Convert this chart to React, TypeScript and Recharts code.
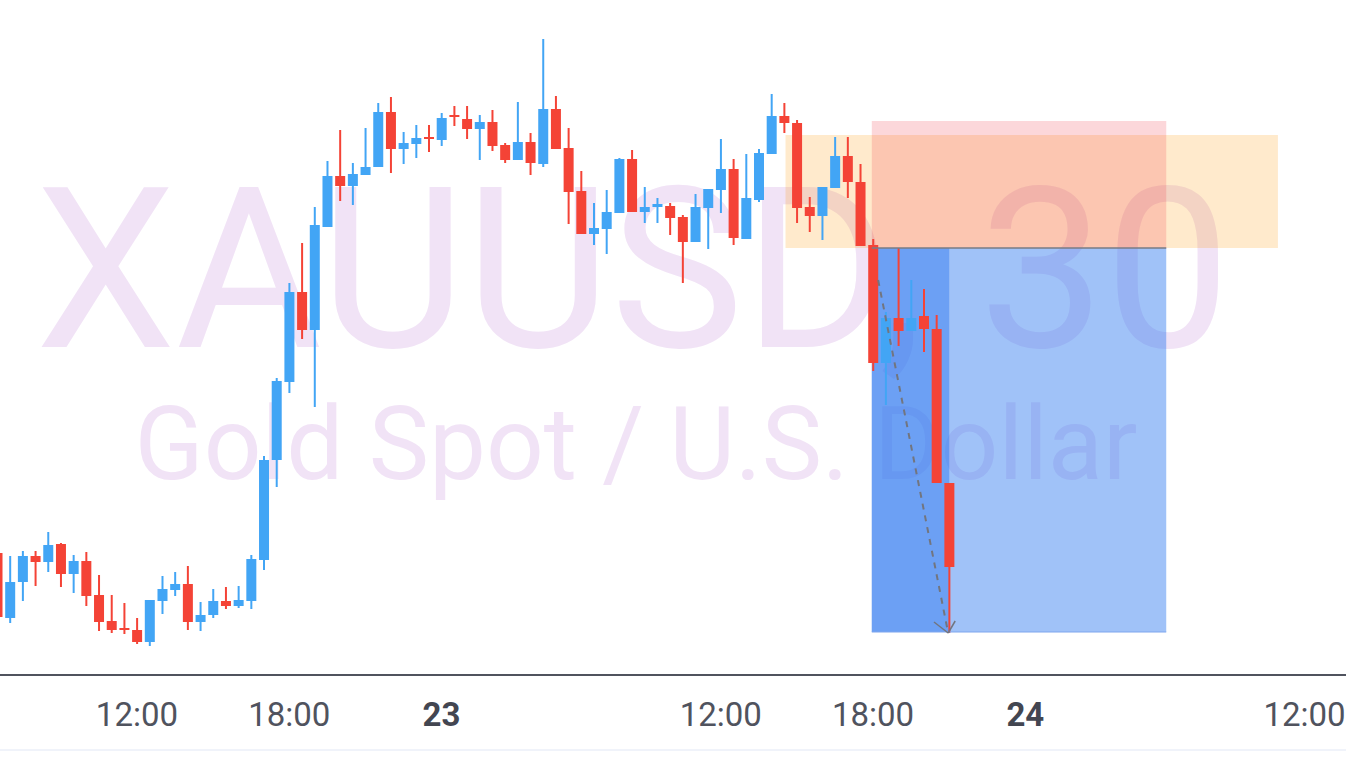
import React from 'react';
import { ComposedChart, Bar, XAxis, YAxis, ReferenceArea, ReferenceLine } from 'recharts';

// 30-minute XAUUSD candles, index 0 is the partial one at the left edge
const opens = [
  2384.7, 2378.2, 2381.8, 2384.4, 2383.8, 2385.6, 2382.6, 2383.9, 2380.5, 2377.9,
  2377.2, 2377.0, 2375.8, 2379.9, 2381.0, 2381.6, 2377.8, 2378.5, 2379.9, 2379.4,
  2379.9, 2384.0, 2394.0, 2401.8, 2410.8, 2407.0, 2417.3, 2422.4, 2421.4, 2422.5,
  2423.3, 2428.8, 2425.1, 2425.6, 2426.3, 2426.0, 2428.5, 2428.1, 2427.1, 2427.8,
  2425.5, 2424.0, 2425.8, 2423.6, 2429.1, 2425.2, 2420.9, 2416.6, 2417.1, 2418.7,
  2424.1, 2418.8, 2419.3, 2419.4, 2418.3, 2415.8, 2419.2, 2421.0, 2423.1, 2416.1,
  2420.0, 2424.6, 2428.4, 2427.7, 2419.3, 2418.4, 2421.2, 2424.4, 2421.8, 2415.5,
  2403.7, 2408.2, 2406.9, 2408.4, 2407.1, 2391.7,
];
const highs = [
  2385.0, 2384.4, 2384.9, 2384.9, 2386.8, 2385.7, 2384.5, 2384.8, 2382.5, 2380.5,
  2379.7, 2378.2, 2380.0, 2382.4, 2382.8, 2383.4, 2379.8, 2381.1, 2381.3, 2381.4,
  2384.5, 2394.4, 2402.2, 2411.7, 2415.7, 2419.3, 2423.9, 2427.0, 2423.7, 2427.2,
  2429.7, 2430.3, 2426.8, 2427.5, 2427.5, 2428.7, 2429.4, 2429.4, 2428.5, 2429.0,
  2425.7, 2429.8, 2426.7, 2436.1, 2430.4, 2427.2, 2422.9, 2419.7, 2421.0, 2424.2,
  2425.0, 2421.3, 2420.2, 2419.7, 2418.5, 2420.6, 2421.1, 2426.1, 2424.1, 2424.6,
  2425.1, 2430.6, 2429.7, 2428.0, 2420.3, 2421.3, 2426.3, 2426.3, 2423.6, 2416.1,
  2408.8, 2415.2, 2412.0, 2411.1, 2408.5, 2391.7,
];
const lows = [
  2378.0, 2377.7, 2379.9, 2381.4, 2382.8, 2381.3, 2380.7, 2379.4, 2376.9, 2376.7,
  2376.6, 2375.6, 2375.4, 2378.6, 2380.4, 2377.0, 2376.9, 2378.2, 2379.1, 2379.2,
  2379.1, 2383.0, 2391.3, 2400.7, 2406.1, 2399.3, 2417.3, 2419.9, 2419.5, 2422.5,
  2423.3, 2422.7, 2423.6, 2424.2, 2424.8, 2425.4, 2427.4, 2426.1, 2424.0, 2424.9,
  2423.7, 2424.0, 2422.5, 2423.3, 2425.1, 2417.6, 2416.6, 2415.5, 2414.6, 2418.7,
  2418.8, 2417.7, 2417.7, 2416.5, 2411.7, 2415.8, 2415.1, 2418.7, 2415.5, 2416.1,
  2419.8, 2424.6, 2426.7, 2417.7, 2416.8, 2416.0, 2421.2, 2420.2, 2415.4, 2402.9,
  2399.5, 2405.4, 2406.9, 2404.8, 2391.7, 2376.7,
];
const closes = [
  2378.3, 2381.8, 2384.4, 2383.8, 2385.5, 2382.6, 2383.9, 2380.4, 2377.8, 2377.0,
  2377.0, 2375.8, 2380.0, 2381.1, 2381.6, 2377.8, 2378.5, 2379.9, 2379.4, 2380.0,
  2384.1, 2394.0, 2401.9, 2410.8, 2407.0, 2417.5, 2422.4, 2421.4, 2422.6, 2423.3,
  2428.8, 2425.1, 2425.7, 2426.2, 2426.1, 2428.2, 2428.3, 2427.1, 2427.8, 2425.4,
  2424.0, 2425.8, 2423.7, 2429.1, 2425.1, 2420.8, 2416.6, 2417.2, 2418.8, 2424.1,
  2418.8, 2419.3, 2419.6, 2418.2, 2415.8, 2419.3, 2421.1, 2423.1, 2416.2, 2420.2,
  2424.7, 2428.4, 2427.7, 2419.2, 2418.4, 2421.3, 2424.4, 2421.8, 2415.4, 2403.7,
  2408.2, 2406.9, 2408.2, 2407.1, 2391.7, 2383.3,
];

// slots on the time scale, the ones after the last candle stay empty
const slotCount = 107;
const tickIndexes = [11, 23, 35, 57, 69, 81, 103];
const tickLabels = ['12:00', '18:00', '23', '12:00', '18:00', '24', '12:00'];
const dayLabels = ['23', '24'];

const priceDomain = [2372.5, 2440];

// short position tool
const positionStart = 68.9;
const positionEnd = 92.1;
const filledEnd = 75.0;
const entryPrice = 2415.2;
const stopPrice = 2427.9;
const targetPrice = 2376.8;

// supply zone drawn by hand
const zoneStart = 62.1;
const zoneEnd = 100.9;
const zoneTop = 2426.5;
const zoneBottom = 2415.2;

// dashed projection arrow
const arrowFrom = { x: 69.4, y: 2412.0 };
const arrowTo = { x: 74.92, y: 2376.7 };
const arrowWingLeft = { x: 73.8, y: 2377.8 };
const arrowWingRight = { x: 75.47, y: 2377.9 };

const UP = '#42A5F5';
const DOWN = '#F44336';

const data = Array.from({ length: slotCount }, (_, i) => ({
  i,
  o: opens[i],
  h: highs[i],
  l: lows[i],
  c: closes[i],
}));

function Candle(props: any) {
  const { x, y, width, height, payload } = props;
  if (!payload || payload.h == null || height == null) return null;
  const { o, h, l, c } = payload;
  const top = Math.min(y, y + height);
  const span = Math.abs(height);
  const per = h - l > 0 ? span / (h - l) : 0;
  const color = c >= o ? UP : DOWN;
  const cx = x + width / 2;
  const bodyTop = top + (h - Math.max(o, c)) * per;
  const bodyBottom = top + (h - Math.min(o, c)) * per;
  const bw = 10;
  return (
    <g>
      <line x1={cx} x2={cx} y1={top} y2={top + span} stroke={color} strokeWidth={2} />
      <rect x={cx - bw / 2} y={bodyTop} width={bw} height={Math.max(bodyBottom - bodyTop, 1.5)} fill={color} />
    </g>
  );
}

function TimeTick(props: any) {
  const { x, y, payload } = props;
  const label = tickLabels[tickIndexes.indexOf(payload.value)];
  const isDay = dayLabels.includes(label);
  return (
    <text
      x={x}
      y={y + 51}
      textAnchor="middle"
      fontFamily="Roboto"
      fontSize={33}
      fontWeight={isDay ? 700 : 400}
      fill={isDay ? '#434651' : '#50535E'}
    >
      {label}
    </text>
  );
}

export default function App() {
  return (
    <div style={{ position: 'absolute', left: 0, top: 0, width: 1346, height: 757, overflow: 'hidden', background: '#fff' }}>
      <svg width={1346} height={757} style={{ position: 'absolute', left: 0, top: 0 }}>
        <text x={633} y={347} textAnchor="middle" fontFamily="Roboto" fontSize={224} fill="#F1E3F6">
          XAUUSD, 30
        </text>
        <text x={636} y={479} textAnchor="middle" fontFamily="Roboto" fontSize={101.5} fill="#F1E3F6">
          Gold Spot / U.S. Dollar
        </text>
      </svg>
      <div style={{ position: 'absolute', left: -9, top: 0 }}>
        <ComposedChart width={1358} height={757} data={data} margin={{ top: 0, right: 0, bottom: 0, left: 0 }} barCategoryGap={0}>
          <XAxis
            dataKey="i"
            type="category"
            ticks={tickIndexes}
            interval={0}
            tick={<TimeTick />}
            tickLine={false}
            tickSize={0}
            tickMargin={0}
            axisLine={{ stroke: '#50535E', strokeWidth: 2 }}
            height={82}
          />
          <XAxis xAxisId="n" dataKey="i" type="number" domain={[-0.5, slotCount - 0.5]} hide allowDataOverflow />
          <YAxis type="number" domain={priceDomain} hide allowDataOverflow />
          <ReferenceArea xAxisId="n" x1={zoneStart} x2={zoneEnd} y1={zoneBottom} y2={zoneTop} fill="#FF9800" fillOpacity={0.2} stroke="none" zIndex={50} />
          <ReferenceArea xAxisId="n" x1={positionStart} x2={positionEnd} y1={entryPrice} y2={stopPrice} fill="#F23645" fillOpacity={0.2} stroke="none" zIndex={50} />
          <ReferenceArea xAxisId="n" x1={positionStart} x2={positionEnd} y1={targetPrice} y2={entryPrice} fill="#2D78F0" fillOpacity={0.45} stroke="none" zIndex={50} />
          <ReferenceArea xAxisId="n" x1={positionStart} x2={filledEnd} y1={targetPrice} y2={entryPrice} fill="#2D78F0" fillOpacity={0.45} stroke="none" zIndex={50} />
          <Bar dataKey={(d: any) => (d.h == null ? null : [d.l, d.h])} shape={<Candle />} isAnimationActive={false} />
          <ReferenceLine
            xAxisId="n"
            segment={[{ x: positionStart, y: entryPrice }, { x: positionEnd, y: entryPrice }]}
            stroke="#787B86"
            strokeWidth={1.5}
            zIndex={600}
          />
          <ReferenceLine
            xAxisId="n"
            segment={[{ x: positionStart, y: targetPrice }, { x: positionEnd, y: targetPrice }]}
            stroke="#7FA6EE"
            strokeWidth={1}
            zIndex={600}
          />
          <ReferenceLine
            xAxisId="n"
            segment={[arrowFrom, arrowTo]}
            stroke="#72757F"
            strokeWidth={2}
            strokeDasharray="6 6"
            zIndex={600}
          />
          <ReferenceLine xAxisId="n" segment={[arrowWingLeft, arrowTo]} stroke="#72757F" strokeWidth={1.5} zIndex={600} />
          <ReferenceLine xAxisId="n" segment={[arrowWingRight, arrowTo]} stroke="#72757F" strokeWidth={1.5} zIndex={600} />
        </ComposedChart>
      </div>
      <div style={{ position: 'absolute', left: 0, top: 749, width: 1346, height: 2, background: '#F0F3FA' }} />
    </div>
  );
}
